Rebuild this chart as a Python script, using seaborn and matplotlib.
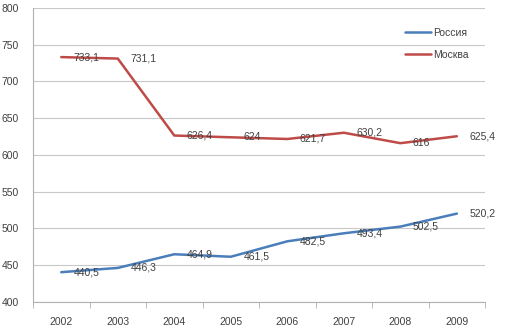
import pandas as pd
import matplotlib
import matplotlib.pyplot as plt
import seaborn as sns

matplotlib.use('Agg')

# Data
years = ['2002', '2003', '2004', '2005', '2006', '2007', '2008', '2009']
russia = [440.5, 446.3, 464.9, 461.5, 482.5, 493.4, 502.5, 520.2]
moscow = [733.1, 731.1, 626.4, 624.0, 621.7, 630.2, 616.0, 625.4]
russia_labels = ['440,5', '446,3', '464,9', '461,5', '482,5', '493,4', '502,5', '520,2']
moscow_labels = ['733,1', '731,1', '626,4', '624', '621,7', '630,2', '616', '625,4']

df = pd.DataFrame({
    'year': years * 2,
    'value': russia + moscow,
    'series': ['Россия'] * len(years) + ['Москва'] * len(years),
})

sns.set_style('white')
plt.rcParams['font.family'] = ['Liberation Sans', 'DejaVu Sans']

fig = plt.figure(figsize=(5.08, 3.30), dpi=100)
ax = fig.add_axes([0.065, 0.085, 0.89, 0.891])

palette = {'Россия': '#4a7ebb', 'Москва': '#be4b48'}
sns.lineplot(data=df, x='year', y='value', hue='series', palette=palette,
             linewidth=1.8, ax=ax, sort=False)

ax.set_ylim(400, 800)
ax.set_xlim(-0.5, 7.5)
ax.set_yticks(range(400, 801, 50))
ax.yaxis.grid(True, color='#c8c8c8', linewidth=0.8)
ax.set_axisbelow(True)

ax.set_xticks(range(len(years)))
ax.set_xticklabels(years)
ax.set_xticks([i - 0.5 for i in range(len(years) + 1)], minor=True)
ax.tick_params(axis='x', which='major', length=0, labelsize=7.5,
               labelcolor='#404040', pad=11)
ax.tick_params(axis='x', which='minor', length=4, color='#b0b0b0',
               direction='out', bottom=True)
ax.tick_params(axis='y', length=0, labelsize=7.5, labelcolor='#404040', pad=10)

for side in ['top', 'right']:
    ax.spines[side].set_visible(False)
for side in ['left', 'bottom']:
    ax.spines[side].set_color('#b0b0b0')
    ax.spines[side].set_linewidth(0.8)

ax.set_xlabel('')
ax.set_ylabel('')

for i, (v, t) in enumerate(zip(moscow, moscow_labels)):
    ax.annotate(t, (i, v), xytext=(9, 0), textcoords='offset points',
                va='center', ha='left', fontsize=7.5, color='#404040')
for i, (v, t) in enumerate(zip(russia, russia_labels)):
    ax.annotate(t, (i, v), xytext=(9, 0), textcoords='offset points',
                va='center', ha='left', fontsize=7.5, color='#404040')

leg = ax.legend(loc='upper right', bbox_to_anchor=(0.985, 0.965), frameon=False,
                fontsize=7.5, handlelength=2.5, handletextpad=0.2,
                labelspacing=1.2)
for txt in leg.get_texts():
    txt.set_color('#404040')

plt.savefig('out.png', dpi=100)
